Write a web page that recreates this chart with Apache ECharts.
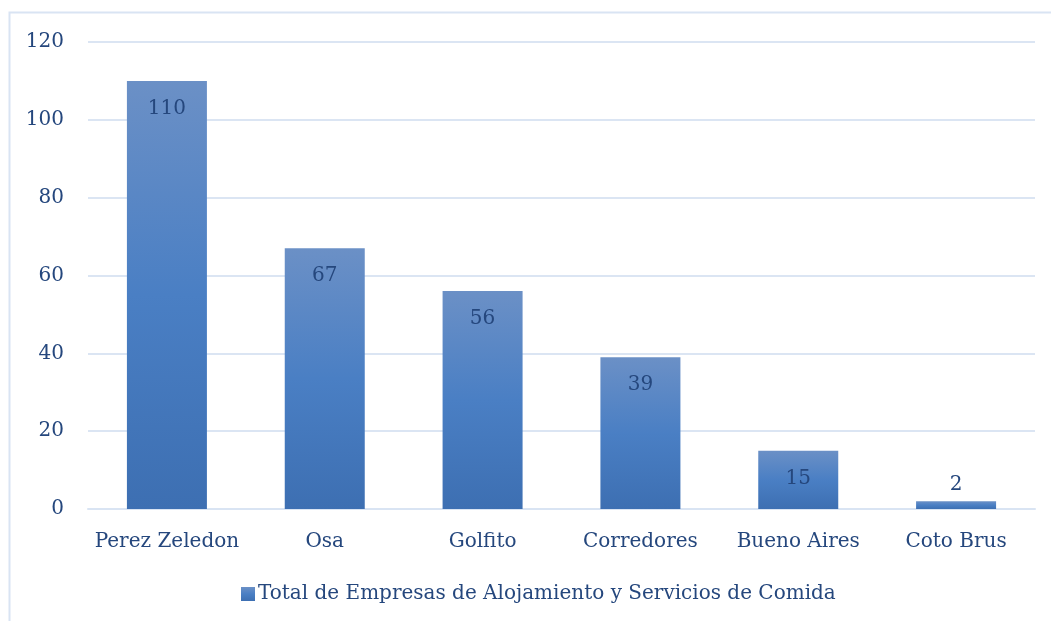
<!DOCTYPE html>
<html>
<head>
<meta charset="utf-8">
<script src="https://cdn.jsdelivr.net/npm/echarts@6/dist/echarts.min.js"></script>
<style>html,body{margin:0;padding:0;background:#fff}#c{width:1051px;height:621px}</style>
</head>
<body>
<div id="c"></div>
<script>
const categories = ['Perez Zeledon', 'Osa', 'Golfito', 'Corredores', 'Bueno Aires', 'Coto Brus'];
const values = [110, 67, 56, 39, 15, 2];
const seriesName = 'Total de Empresas de Alojamiento y Servicios de Comida';
const yTicks = { min: 0, max: 120, interval: 20 };

const FONT = 'DejaVu Serif';
const TXT = '#25477d';
const chart = echarts.init(document.getElementById('c'));
const grad = new echarts.graphic.LinearGradient(0, 0, 0, 1, [
  { offset: 0, color: '#6b90c6' },
  { offset: 0.5, color: '#4a7fc4' },
  { offset: 1, color: '#3d6fb2' }
]);
chart.setOption({
  animation: false,
  backgroundColor: '#fff',
  graphic: [{
    type: 'rect', left: 7, top: 10, silent: true,
    shape: { width: 1200, height: 800 },
    style: { fill: 'none', stroke: '#d9e4f3', lineWidth: 2 }
  }],
  grid: { left: 88, right: 16, top: 42, bottom: 112, containLabel: false },
  legend: {
    bottom: 12, left: 236,
    itemWidth: 14, itemHeight: 14, itemGap: 10,
    icon: 'rect',
    textStyle: { fontFamily: FONT, fontSize: 20, color: TXT, padding: [0, 0, 0, -2] },
    data: [seriesName]
  },
  xAxis: {
    type: 'category', data: categories,
    axisLine: { lineStyle: { color: '#d9e4f3', width: 2 } },
    axisTick: { show: false },
    axisLabel: { fontFamily: FONT, fontSize: 20, color: TXT, margin: 23, interval: 0 }
  },
  yAxis: {
    type: 'value', min: yTicks.min, max: yTicks.max, interval: yTicks.interval,
    axisLine: { show: false }, axisTick: { show: false },
    splitLine: { lineStyle: { color: '#dbe5f3', width: 2 } },
    axisLabel: { fontFamily: FONT, fontSize: 20, color: TXT, margin: 24, padding: [4, 0, 0, 0] }
  },
  series: [{
    name: seriesName, type: 'bar', barWidth: 80,
    itemStyle: { color: grad },
    data: values.map(v => ({
      value: v,
      label: v < 8 ? { position: 'top', distance: 6 } : { position: 'insideTop', distance: 18 }
    })),
    label: { show: true, fontFamily: FONT, fontSize: 20, color: TXT }
  }]
});
</script>
</body>
</html>
